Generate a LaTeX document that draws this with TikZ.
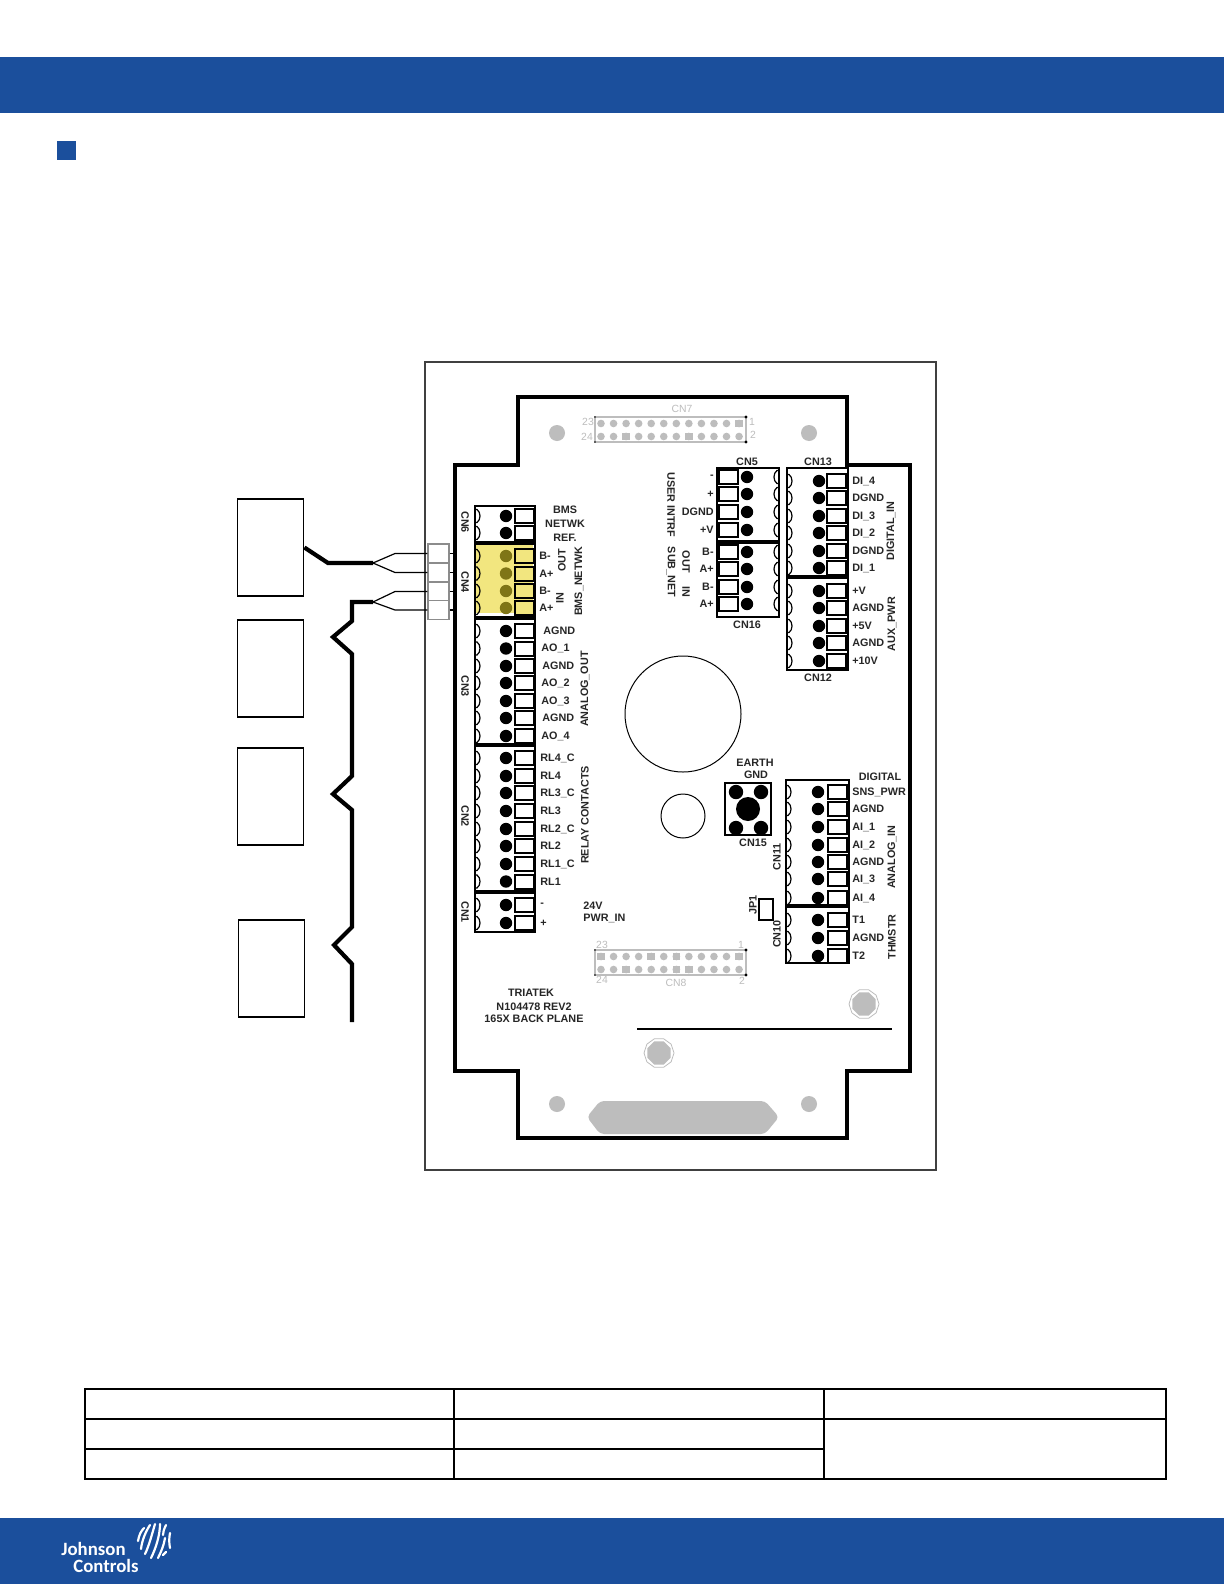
\documentclass[tikz,border=0pt]{standalone}
\usepackage{fontspec}
\setmainfont{Liberation Sans}
\usetikzlibrary{shapes.geometric}
\definecolor{jcblue}{HTML}{1B4F9C}
\definecolor{cnyellow}{HTML}{F2E67F}
\definecolor{cnolive}{HTML}{7F7516}
\definecolor{pcbgrey}{HTML}{BDBDBD}
\definecolor{labdark}{HTML}{262626}
\tikzset{
  lab/.style={font=\fontsize{5.4}{6}\selectfont\bfseries, inner sep=0pt, text=labdark},
  glab/.style={font=\fontsize{5.2}{6}\selectfont, inner sep=0pt, text=pcbgrey},
  logotext/.style={inner sep=0pt, anchor=base west, text=white, font=\fontsize{9.4}{10}\selectfont\fontspec{Carlito}\bfseries},
  pinface/.style={fill=white},
  pindot/.style={fill=black},
  devbox/.style={draw=black, line width=.9pt, fill=white, minimum width=33pt, minimum height=48.5pt, inner sep=0pt},
  term/.style={draw=black!45, line width=.6pt, fill=white, minimum width=10.5pt, minimum height=9.5pt, inner sep=0pt},
  fatw/.style={line width=2.1pt},
  thinw/.style={line width=.6pt},
  boltout/.style={regular polygon, regular polygon sides=10, draw=pcbgrey, line width=.4pt, minimum size=15pt, inner sep=0pt},
  boltin/.style={regular polygon, regular polygon sides=8, fill=pcbgrey, minimum size=12.5pt, inner sep=0pt}
}
% scallop dir, scallop x, dot x, square left x, y
\newcommand{\spin}[5]{
  \draw[line width=.6pt] (#2,#5-6.5) -- (#2+#1*2,#5-6.5) .. controls (#2+#1*6,#5-4) and (#2+#1*6,#5+4) .. (#2+#1*2,#5+6.5) -- (#2,#5+6.5);
  \fill[pindot] (#3,#5) circle (3.1pt);
  \draw[pinface, line width=1pt] (#4,#5-7) rectangle (#4+19,#5+7);
}
\newcommand{\slab}[4]{\node[lab, #4] (#1) at (#2) {#3}}
\newcommand{\hdr}[4]{
  \draw[pcbgrey, line width=.7pt] (#1,#2) rectangle (#1+151,#2+25);
  \foreach \i in {0,...,11} {
    \fill[pcbgrey] (#1+6+\i*12.55,#2+6.5) circle (1.9pt);
    \fill[pcbgrey] (#1+6+\i*12.55,#2+19.5) circle (1.9pt);
  }
  \foreach \i in {#3} {\fill[pcbgrey] (#1+2.2+\i*12.55,#2+2.7) rectangle ++(7.6,7.6);}
  \foreach \i in {#4} {\fill[pcbgrey] (#1+2.2+\i*12.55,#2+15.7) rectangle ++(7.6,7.6);}
  \fill (#1+151,#2) circle (.8pt);
  \fill (#1+151,#2+25) circle (.8pt);
  \fill (#1,#2) circle (.4pt);
  \fill (#1,#2+25) circle (.4pt);
}

\begin{document}
\begin{tikzpicture}[x=.5pt,y=-.5pt]

\useasboundingbox (0,0) rectangle (1224,1584);
\fill[white] (0,0) rectangle (1224,1584);

\fill[jcblue] (0,57) rectangle (1224,113);
\fill[jcblue] (57,141) rectangle (76,160);
\fill[jcblue] (0,1518) rectangle (1224,1584);

\node[logotext] (JOHNSON) at (61,1555) {Johnson};
\node[logotext] (CONTROLS) at (73,1572) {Controls};
\begin{scope}[white, line width=1.1pt, line cap=round]
\draw (138,1541) .. controls (139,1535) and (141,1531) .. (144,1528);
\draw (141,1549) .. controls (142,1540) and (146,1531) .. (150,1525);
\draw (145,1554) .. controls (149,1546) and (152,1534) .. (155,1524);
\draw (151,1558) .. controls (156,1548) and (160,1535) .. (160,1524);
\draw (158,1558) .. controls (161,1552) and (164,1545) .. (165,1538);
\draw (166,1525) .. controls (164,1529) and (163,1532) .. (163,1535);
\draw (170,1533) .. controls (169,1538) and (169,1543) .. (170,1548);
\draw (163,1555) -- (166,1552);
\end{scope}

% plate and board
\draw[line width=1pt, draw=black!75] (425,361.5) rectangle (936,1169.5);
\draw[line width=1.8pt] (455,465) -- (518,465) -- (518,397) -- (847,397) -- (847,465) -- (910,465) -- (910,1071) -- (847,1071) -- (847,1138) -- (518,1138) -- (518,1071) -- (455,1071) -- cycle;
\foreach \x/\y in {557/433,809/433,557/1104,809/1104} {\fill[pcbgrey] (\x,\y) circle (4pt);}
\fill[pcbgrey, rounded corners=2pt] (587,1117) -- (600,1101) -- (765,1101) -- (779,1117) -- (765,1134) -- (600,1134) -- cycle;
\node[boltout] (BOLTA) at (659,1053) {};
\node[boltin] (BOLTAI) at (659,1053) {};
\node[boltout] (BOLTB) at (864,1004) {};
\node[boltin] (BOLTBI) at (864,1004) {};
\draw[line width=1.2pt] (637,1029) -- (892,1029);
\draw[line width=.5pt] (683,714) circle (29pt);
\draw[line width=.5pt] (683,816) circle (11pt);

\hdr{595}{417}{11}{2,7}
\hdr{595}{950}{0,4,6,11}{2,6,7}
\node[glab] (CNSEVEN) at (682,409) {CN7};
\node[glab] (CNEIGHT) at (676,983) {CN8};
\node[glab] (PSEVA) at (588,422) {23};
\node[glab] (PSEVB) at (587,437) {24};
\node[glab] (PSEVC) at (752,422) {1};
\node[glab] (PSEVD) at (753,435) {2};
\node[glab] (PEIGA) at (602,945) {23};
\node[glab] (PEIGB) at (602,980) {24};
\node[glab] (PEIGC) at (741,945) {1};
\node[glab] (PEIGD) at (742,981) {2};

% left column
\fill[cnyellow] (475,543) rectangle (533,613);
\draw[line width=1.4pt] (475,506) rectangle (535,932);
\foreach \y in {543,618,745,892} {\draw[line width=2pt] (475,\y) -- (535,\y);}
\foreach \y/\x/\t in {631/543/AGND,648.5/541/AO\_1,666/542/AGND,683/541/AO\_2,701/541/AO\_3,718/542/AGND,736/541/AO\_4,
  758/540/RL4\_C,776/540/RL4,793/540/RL3\_C,811/540/RL3,829/540/RL2\_C,846/540/RL2,864/540/RL1\_C,881.5/540/RL1,905/540/-,923/540/+} {
  \spin{1}{475}{506}{515}{\y}
  \slab{LB\y}{\x,\y}{\t}{anchor=west};
}
\foreach \y in {516,533} {\spin{1}{475}{506}{515}{\y}}
\begin{scope}[pinface/.style={fill=cnyellow}, pindot/.style={fill=cnolive}]
\foreach \y/\t in {556/B-,573.5/A+,591/B-,608/A+} {
  \spin{1}{475}{506}{515}{\y}
  \slab{LB\y}{539,\y}{\t}{anchor=west};
}
\end{scope}

% middle and right columns
\draw[line width=1.4pt] (717,468) rectangle (779,617);
\draw[line width=1.8pt] (717,542) -- (779,542);
\foreach \y/\t in {477/-,494/+,512/DGND,530/+V,552/B-,569/A+,587/B-,604/A+} {
  \spin{-1}{779}{747}{719}{\y}
  \slab{LC\y}{714,\y}{\t}{anchor=east};
}
\draw[line width=1.4pt] (787,468) rectangle (848,670);
\draw[line width=2.4pt] (787,577) -- (848,577);
\foreach \y/\t in {481/DI\_4,498/DGND,516/DI\_3,533/DI\_2,551/DGND,568/DI\_1,591/+V,608/AGND,626/+5V,643/AGND,661/+10V} {
  \spin{1}{787}{819}{827}{\y}
  \slab{LD\y}{852,\y}{\t}{anchor=west};
}
\draw[line width=1.4pt] (786,780) rectangle (849,963);
\draw[line width=1.8pt] (786,906) -- (849,906);
\foreach \y/\t in {792/SNS\_PWR,809/AGND,827/AI\_1,845/AI\_2,862/AGND,879/AI\_3,898/AI\_4,920/T1,938/AGND,956/T2} {
  \spin{1}{786}{818}{828}{\y}
  \slab{LE\y}{852,\y}{\t}{anchor=west};
}

% earth stud and jumper
\draw[line width=1.2pt] (725,783) rectangle (771,835);
\foreach \x/\y in {736/792,761/792,736/828,761/828} {\fill (\x,\y) circle (3.6pt);}
\fill (748,809) circle (6pt);
\draw[line width=1.2pt] (759,899) rectangle (773,920);

% block labels
\slab{CNSIX}{465,522}{CN6}{rotate=-90};
\slab{CNFOUR}{465,582}{CN4}{rotate=-90};
\slab{CNTHREE}{465,686}{CN3}{rotate=-90};
\slab{CNTWO}{465,816}{CN2}{rotate=-90};
\slab{CNONE}{465,912}{CN1}{rotate=-90};
\slab{BMSA}{565,510}{BMS}{};
\slab{BMSB}{565,524}{NETWK}{};
\slab{BMSC}{565,538}{REF.}{};
\slab{OUTA}{562,560}{OUT}{rotate=90};
\slab{INA}{560,598}{IN}{rotate=90};
\slab{BMSN}{579,581}{BMS\_NETWK}{rotate=90};
\slab{AOUT}{585,689}{ANALOG\_OUT}{rotate=90};
\slab{RELAY}{585,815}{RELAY CONTACTS}{rotate=90};
\slab{PWRA}{583,906}{24V}{anchor=west};
\slab{PWRB}{583,918}{PWR\_IN}{anchor=west};
\slab{TRIA}{531,993}{TRIATEK}{};
\slab{TRIB}{534,1007}{N104478 REV2}{};
\slab{TRIC}{534,1019}{165X BACK PLANE}{};
\slab{USER}{671,505}{USER INTRF}{rotate=-90};
\slab{SUBN}{671,572}{SUB\_NET}{rotate=-90};
\slab{OUTB}{686,562}{OUT}{rotate=-90};
\slab{INB}{686,592}{IN}{rotate=-90};
\slab{CNFIVE}{747,462}{CN5}{};
\slab{CNTHIR}{818,462}{CN13}{};
\slab{CNSIXT}{747,625}{CN16}{};
\slab{CNTWEL}{818,678}{CN12}{};
\slab{DIGI}{891,531}{DIGITAL\_IN}{rotate=90};
\slab{AUXP}{892,624}{AUX\_PWR}{rotate=90};
\slab{EARA}{755,763}{EARTH}{};
\slab{EARB}{756,775}{GND}{};
\slab{CNFIFT}{753,843}{CN15}{};
\slab{DIGB}{880,777}{DIGITAL}{};
\slab{ANIN}{892,857}{ANALOG\_IN}{rotate=90};
\slab{THMS}{892,937}{THMSTR}{rotate=90};
\slab{CNELEV}{777,857}{CN11}{rotate=90};
\slab{CNTEN}{777,934}{CN10}{rotate=90};
\slab{JPONE}{753,905}{JP1}{rotate=90};

% devices and wiring
\node[devbox] (DEVA) at (270.5,547.5) {};
\node[devbox] (DEVB) at (270.5,668.5) {};
\node[devbox] (DEVC) at (270.5,796.5) {};
\node[devbox] (DEVD) at (271.5,968.5) {};
\node[term] (TA) at (438.5,553.5) {};
\node[term] (TB) at (438.5,572.5) {};
\node[term] (TC) at (438.5,591.5) {};
\node[term] (TD) at (438.5,610) {};
\foreach \n in {TA,TB,TC,TD} {\draw[thinw] (\n.east) -- ++(4,0);}

\coordinate (KINK) at (328,563);
\coordinate (FORKA) at (373,563);
\coordinate (FORKB) at (373,602);
\coordinate (WEND) at (352,1022);
\draw[fatw] (DEVA.east) -- (KINK) -- (FORKA);
\draw[thinw] (FORKA) -- (395,553.5) -- (TA.west);
\draw[thinw] (FORKA) -- (395,572.5) -- (TB.west);
\draw[thinw] (FORKB) -- (395,591.5) -- (TC.west);
\draw[thinw] (FORKB) -- (395,610) -- (TD.west);
\draw[fatw] (FORKB) -- (352,602) -- (352,621) -- (333,637) -- (352,654) -- (352,776) -- (333,794) -- (352,810) -- (352,927) -- (334,945) -- (352,964) -- (WEND);

% table
\draw[line width=1pt] (85,1389) rectangle (1166,1479);
\draw[line width=1pt] (85,1419) -- (1166,1419);
\draw[line width=1pt] (85,1449) -- (824,1449);
\draw[line width=1pt] (453.5,1389) -- (453.5,1479);
\draw[line width=1pt] (824,1389) -- (824,1479);

\end{tikzpicture}
\end{document}
